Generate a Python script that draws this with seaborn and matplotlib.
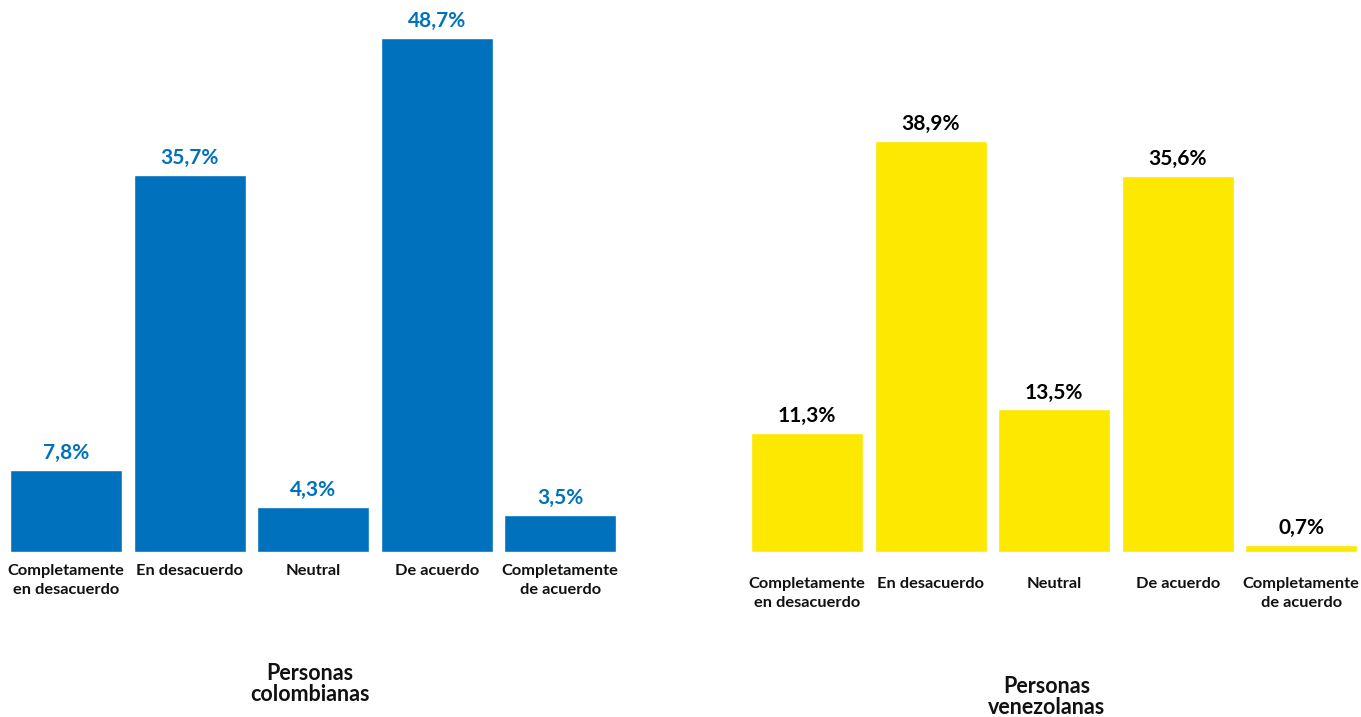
import matplotlib
matplotlib.use("Agg")
import matplotlib.pyplot as plt
import seaborn as sns
import pandas as pd

# Survey responses by group (percent)
categorias = [
    "Completamente\nen desacuerdo",
    "En desacuerdo",
    "Neutral",
    "De acuerdo",
    "Completamente\nde acuerdo",
]
colombianas = [7.8, 35.7, 4.3, 48.7, 3.5]
venezolanas = [11.3, 38.9, 13.5, 35.6, 0.7]
titulos = ["Personas\ncolombianas", "Personas\nvenezolanas"]

AZUL = "#0071BC"
AMARILLO = "#FCE800"

sns.set_theme(style="white")
plt.rcParams["font.family"] = ["Lato", "DejaVu Sans"]

W, H = 1361, 717
fig = plt.figure(figsize=(W / 100, H / 100), dpi=100)
fig.patch.set_facecolor("white")


def px_axes(left, bottom_px, width, height):
    """Axes placed in pixel coordinates measured from the top-left corner."""
    return fig.add_axes([left / W, 1 - bottom_px / H, width / W, height / H])


panels = [
    (colombianas, AZUL, AZUL, 4.5, 12, titulos[0], 310, 684),
    (venezolanas, AMARILLO, "black", 745.5, 25, titulos[1], 1047, 697),
]

for valores, color, color_txt, left, pad_px, titulo, tx, ty in panels:
    ax = px_axes(left, 552, 617.5, 528)
    df = pd.DataFrame({"categoria": categorias, "valor": valores})
    sns.barplot(data=df, x="categoria", y="valor", color=color,
                saturation=1, width=0.907, ax=ax)
    ax.set_xlim(-0.5, 4.5)
    ax.set_ylim(0, 50)
    etiquetas = [f"{v:.1f}".replace(".", ",") + "%" for v in valores]
    ax.bar_label(ax.containers[0], labels=etiquetas, padding=5,
                 fontsize=15, fontweight="bold", color=color_txt)
    ax.set_xlabel("")
    ax.set_ylabel("")
    ax.set_yticks([])
    ax.tick_params(axis="x", length=0, pad=pad_px * 0.72)
    for lbl in ax.get_xticklabels():
        lbl.set_fontsize(11.8)
        lbl.set_fontweight("bold")
        lbl.set_color("#111111")
        lbl.set_linespacing(1.45)
        lbl.set_verticalalignment("top")
    sns.despine(ax=ax, left=True, bottom=True)
    ax.patch.set_alpha(0)
    fig.text(tx / W, 1 - ty / H, titulo, ha="center", va="center",
             fontsize=15.5, fontweight="bold", color="#111111", linespacing=1.0)

fig.savefig("out.png", dpi=100, facecolor="white")
